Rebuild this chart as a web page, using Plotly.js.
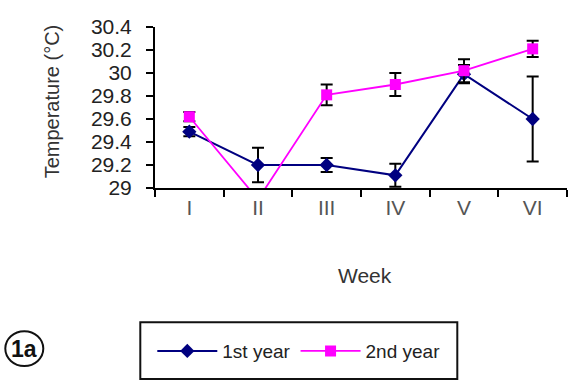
<!DOCTYPE html>
<html>
<head>
<meta charset="utf-8">
<script src="https://cdn.plot.ly/plotly-3.0.1.min.js"></script>
<style>html,body{margin:0;padding:0;background:#fff;}#chart{width:579px;height:382px;}</style>
</head>
<body>
<div id="chart"></div>
<script>
var weeks = ["I", "II", "III", "IV", "V", "VI"];
var year1 = [29.49, 29.2, 29.2, 29.11, 29.99, 29.6];
var year1Err = [0.04, 0.15, 0.06, 0.1, 0.08, 0.37];
var year2 = [29.62, 28.9, 29.81, 29.9, 30.02, 30.21];
var year2Err = [0.04, 0.05, 0.09, 0.1, 0.1, 0.07];
var yTicks = [29, 29.2, 29.4, 29.6, 29.8, 30, 30.2, 30.4];
var yTickText = ["29", "29.2", "29.4", "29.6", "29.8", "30", "30.2", "30.4"];

var W = 579, H = 382;
var L = 154.7, R = 566.7, T = 26.7, B = 188.3;
function px(x) { return (x - L) / (R - L); }
function py(y) { return (B - y) / (B - T); }
var FONT = "Liberation Sans, Arial, sans-serif";

var traces = [
  {
    x: weeks, y: year1, name: "1st year", type: "scatter", mode: "lines+markers",
    line: {color: "#000080", width: 2},
    marker: {symbol: "diamond", size: 11, color: "#000080"},
    error_y: {type: "data", array: year1Err, visible: true, color: "#000000", thickness: 2, width: 6}
  },
  {
    x: weeks, y: year2, name: "2nd year", type: "scatter", mode: "lines+markers",
    line: {color: "#FF00FF", width: 1.8},
    marker: {symbol: "square", size: 11, color: "#FF00FF"},
    error_y: {type: "data", array: year2Err, visible: true, color: "#000000", thickness: 2, width: 6}
  }
];

var layout = {
  width: W, height: H,
  margin: {l: L, r: W - R, t: T, b: H - B, pad: 0},
  paper_bgcolor: "#ffffff", plot_bgcolor: "#ffffff",
  font: {family: FONT, color: "#222"},
  showlegend: true,
  legend: {
    orientation: "h", x: px(152), y: py(352), xanchor: "left", yanchor: "middle",
    font: {family: FONT, size: 19, color: "#222"},
    bgcolor: "rgba(0,0,0,0)", borderwidth: 0, itemwidth: 60, tracegroupgap: 0
  },
  xaxis: {
    type: "category", range: [-0.5, 5.5], tickson: "boundaries",
    showline: true, linecolor: "#000", linewidth: 2, showgrid: false, zeroline: false,
    ticks: "outside", ticklen: 7, tickwidth: 2, tickcolor: "#000",
    tickfont: {family: FONT, size: 21, color: "#555"}, fixedrange: true
  },
  yaxis: {
    range: [29, 30.4], tickvals: yTicks, ticktext: yTickText,
    showline: true, linecolor: "#000", linewidth: 2, showgrid: false, zeroline: false,
    ticks: "outside", ticklen: 7, tickwidth: 2, tickcolor: "#000",
    tickfont: {family: FONT, size: 21, color: "#222"}, ticklabelstandoff: 10, fixedrange: true
  },
  shapes: [
    {type: "rect", xref: "paper", yref: "paper", x0: px(140), x1: px(457), y0: py(323), y1: py(380),
      line: {color: "#111", width: 2}, fillcolor: "rgba(0,0,0,0)"},
    {type: "circle", xref: "paper", yref: "paper", x0: px(5), x1: px(43), y0: py(332), y1: py(367),
      line: {color: "#111", width: 2}, fillcolor: "rgba(0,0,0,0)"}
  ],
  annotations: [
    {text: "Temperature (°C)", xref: "paper", yref: "paper", x: px(52), y: py(101), showarrow: false,
      textangle: -90, font: {family: FONT, size: 20, color: "#333"}, xanchor: "center", yanchor: "middle"},
    {text: "Week", xref: "paper", yref: "paper", x: px(365), y: py(276), showarrow: false,
      font: {family: FONT, size: 21, color: "#333"}, xanchor: "center", yanchor: "middle"},
    {text: "<b>1a</b>", xref: "paper", yref: "paper", x: px(24), y: py(350), showarrow: false,
      font: {family: FONT, size: 23, color: "#111"}, xanchor: "center", yanchor: "middle"}
  ]
};

Plotly.newPlot("chart", traces, layout, {displayModeBar: false, staticPlot: true});
</script>
</body>
</html>
